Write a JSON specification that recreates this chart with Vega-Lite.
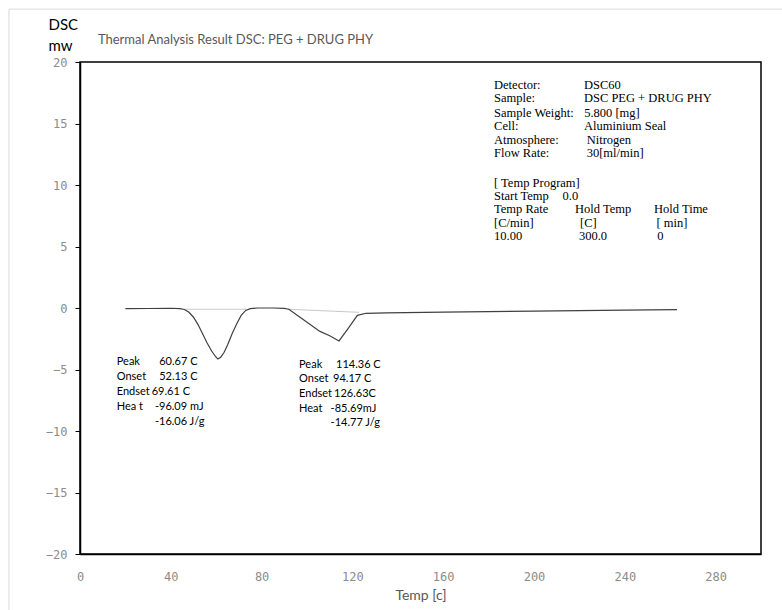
{
  "$schema": "https://vega.github.io/schema/vega-lite/v6.json",
  "width": 681,
  "height": 492,
  "autosize": {"type": "none"},
  "padding": {"left": 80, "top": 62, "right": 21, "bottom": 56},
  "background": "white",
  "config": {"view": {"stroke": "#000", "strokeWidth": 1.5}},
  "datasets": {
    "curve": [
      {"t": 20, "v": -0.05}, {"t": 30, "v": -0.04}, {"t": 40, "v": -0.02}, {"t": 44, "v": -0.05},
      {"t": 46, "v": -0.12}, {"t": 48, "v": -0.35}, {"t": 50, "v": -0.75}, {"t": 52, "v": -1.35},
      {"t": 54, "v": -2.1}, {"t": 56, "v": -2.85}, {"t": 58, "v": -3.5}, {"t": 59.5, "v": -3.9},
      {"t": 60.7, "v": -4.15}, {"t": 62, "v": -4.0}, {"t": 63.5, "v": -3.6}, {"t": 65, "v": -3.0},
      {"t": 67, "v": -2.1}, {"t": 69, "v": -1.3}, {"t": 71, "v": -0.6}, {"t": 73, "v": -0.2},
      {"t": 75, "v": -0.05}, {"t": 78, "v": 0.0}, {"t": 85, "v": 0.0}, {"t": 90, "v": -0.03},
      {"t": 92, "v": -0.1}, {"t": 98, "v": -0.9}, {"t": 105.7, "v": -1.9}, {"t": 110, "v": -2.25},
      {"t": 114.1, "v": -2.68}, {"t": 118, "v": -1.7}, {"t": 122.2, "v": -0.6}, {"t": 126, "v": -0.43},
      {"t": 135, "v": -0.4}, {"t": 160, "v": -0.33}, {"t": 200, "v": -0.25}, {"t": 240, "v": -0.17},
      {"t": 263, "v": -0.13}
    ],
    "base": [
      {"t": 46, "v": -0.1, "t2": 73.4, "v2": -0.1},
      {"t": 91.6, "v": -0.1, "t2": 122.9, "v2": -0.35}
    ],
    "frame": [
      {"t": -31.3, "v": 24.3, "t2": 320, "v2": 24.3},
      {"t": -31.3, "v": 24.3, "t2": -31.3, "v2": -26}
    ],
    "heading": [
      {"t": 7.9, "v": 21.8, "txt": "Thermal Analysis Result DSC: PEG + DRUG PHY"}
    ],
    "notes": [
      {"t": 16.2, "v": -4.37, "txt": "Peak"}, {"t": 34.9, "v": -4.37, "txt": "60.67 C"},
      {"t": 16.2, "v": -5.59, "txt": "Onset"}, {"t": 34.9, "v": -5.59, "txt": "52.13 C"},
      {"t": 16.2, "v": -6.79, "txt": "Endset"}, {"t": 31.6, "v": -6.79, "txt": "69.61 C"},
      {"t": 16.2, "v": -8.05, "txt": "Hea t"}, {"t": 33.0, "v": -8.05, "txt": "-96.09 mJ"},
      {"t": 33.0, "v": -9.27, "txt": "-16.06 J/g"},
      {"t": 96.5, "v": -4.63, "txt": "Peak"}, {"t": 112.8, "v": -4.63, "txt": "114.36 C"},
      {"t": 96.5, "v": -5.81, "txt": "Onset"}, {"t": 111.5, "v": -5.81, "txt": "94.17 C"},
      {"t": 96.5, "v": -6.99, "txt": "Endset"}, {"t": 111.9, "v": -6.99, "txt": "126.63C"},
      {"t": 96.5, "v": -8.21, "txt": "Heat"}, {"t": 110.4, "v": -8.21, "txt": "-85.69mJ"},
      {"t": 110.4, "v": -9.35, "txt": "-14.77 J/g"}
    ],
    "info": [
      {"t": 182.4, "v": 18.13, "txt": "Detector:"}, {"t": 222.0, "v": 18.13, "txt": "DSC60"},
      {"t": 182.4, "v": 17.05, "txt": "Sample:"}, {"t": 222.0, "v": 17.05, "txt": "DSC PEG + DRUG PHY"},
      {"t": 182.4, "v": 15.88, "txt": "Sample Weight:"}, {"t": 222.1, "v": 15.88, "txt": "5.800 [mg]"},
      {"t": 182.4, "v": 14.80, "txt": "Cell:"}, {"t": 222.0, "v": 14.80, "txt": "Aluminium Seal"},
      {"t": 182.4, "v": 13.66, "txt": "Atmosphere:"}, {"t": 223.2, "v": 13.66, "txt": "Nitrogen"},
      {"t": 182.4, "v": 12.58, "txt": "Flow Rate:"}, {"t": 223.2, "v": 12.58, "txt": "30[ml/min]"},
      {"t": 182.4, "v": 10.19, "txt": "[ Temp Program]"},
      {"t": 182.4, "v": 9.11, "txt": "Start Temp"}, {"t": 212.6, "v": 9.11, "txt": "0.0"},
      {"t": 182.4, "v": 8.02, "txt": "Temp Rate"}, {"t": 218.1, "v": 8.02, "txt": "Hold Temp"}, {"t": 252.9, "v": 8.02, "txt": "Hold Time"},
      {"t": 182.4, "v": 6.89, "txt": "[C/min]"}, {"t": 220.3, "v": 6.89, "txt": "[C]"}, {"t": 254.0, "v": 6.89, "txt": "[ min]"},
      {"t": 182.4, "v": 5.85, "txt": "10.00"}, {"t": 219.8, "v": 5.85, "txt": "300.0"}, {"t": 254.3, "v": 5.85, "txt": "0"}
    ]
  },
  "layer": [
    {
      "data": {"name": "frame"},
      "mark": {"type": "rule", "color": "#d9d9d9", "strokeWidth": 1, "clip": false},
      "encoding": {
        "x": {"field": "t", "type": "quantitative", "scale": {"domain": [0, 300], "nice": false, "zero": false},
          "axis": {"values": [0, 40, 80, 120, 160, 200, 240, 280], "title": "Temp [c]", "ticks": false, "grid": false,
            "domainColor": "#000", "domainWidth": 1.5, "labelFlush": false,
            "labelFont": "DejaVu Sans Mono", "labelFontSize": 12, "labelColor": "#8c8c8c", "labelPadding": 17,
            "titleFont": "Lato", "titleFontSize": 14, "titleColor": "#595959", "titleFontWeight": "normal", "titlePadding": 6}},
        "y": {"field": "v", "type": "quantitative", "scale": {"domain": [-20, 20], "nice": false, "zero": false},
          "axis": {"values": [-20, -15, -10, -5, 0, 5, 10, 15, 20], "title": ["DSC", "mw"], "titleAngle": 0,
            "titleAlign": "left", "titleBaseline": "top", "titleX": -32, "titleY": -45,
            "titleFont": "Lato", "titleFontSize": 15, "titleColor": "#000", "titleFontWeight": "normal", "titleLineHeight": 21,
            "grid": false, "tickColor": "#000", "tickSize": 5, "domainColor": "#000", "domainWidth": 1.5,
            "labelFont": "DejaVu Sans Mono", "labelFontSize": 12, "labelColor": "#8c8c8c", "labelPadding": 8}},
        "x2": {"field": "t2"},
        "y2": {"field": "v2"}
      }
    },
    {
      "data": {"name": "base"},
      "mark": {"type": "rule", "color": "#c8c8c8", "strokeWidth": 1},
      "encoding": {
        "x": {"field": "t", "type": "quantitative"},
        "y": {"field": "v", "type": "quantitative"},
        "x2": {"field": "t2"},
        "y2": {"field": "v2"}
      }
    },
    {
      "data": {"name": "curve"},
      "mark": {"type": "line", "color": "#404040", "strokeWidth": 1.2},
      "encoding": {
        "x": {"field": "t", "type": "quantitative"},
        "y": {"field": "v", "type": "quantitative"}
      }
    },
    {
      "data": {"name": "heading"},
      "mark": {"type": "text", "align": "left", "baseline": "middle", "font": "Lato", "fontSize": 13, "color": "#595959", "clip": false},
      "encoding": {
        "x": {"field": "t", "type": "quantitative"},
        "y": {"field": "v", "type": "quantitative"},
        "text": {"field": "txt"}
      }
    },
    {
      "data": {"name": "notes"},
      "mark": {"type": "text", "align": "left", "baseline": "middle", "font": "Lato", "fontSize": 11, "color": "#000"},
      "encoding": {
        "x": {"field": "t", "type": "quantitative"},
        "y": {"field": "v", "type": "quantitative"},
        "text": {"field": "txt"}
      }
    },
    {
      "data": {"name": "info"},
      "mark": {"type": "text", "align": "left", "baseline": "middle", "font": "Liberation Serif", "fontSize": 12.5, "color": "#000"},
      "encoding": {
        "x": {"field": "t", "type": "quantitative"},
        "y": {"field": "v", "type": "quantitative"},
        "text": {"field": "txt"}
      }
    }
  ]
}
